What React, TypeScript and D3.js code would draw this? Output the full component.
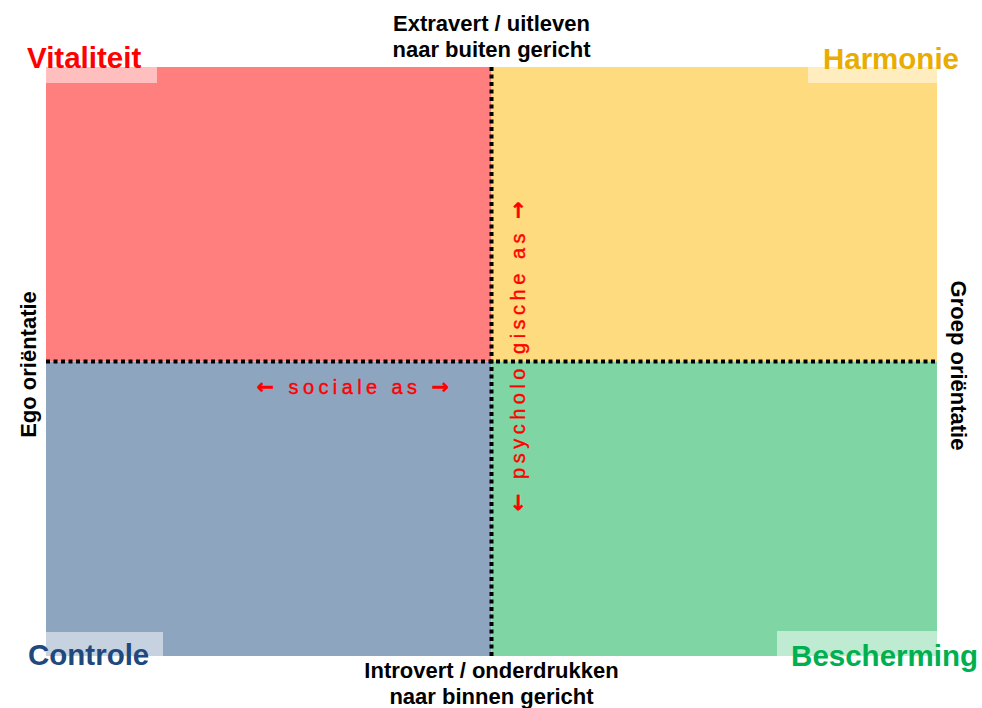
import React from 'react';
import * as d3 from 'd3';

// quadrant data: [x0, x1] and [y0, y1] in axis units (-1..1)
const quadNames = ['Vitaliteit', 'Harmonie', 'Controle', 'Bescherming'];
const quadX = [[-1, 0], [0, 1], [-1, 0], [0, 1]];
const quadY = [[0, 1], [0, 1], [-1, 0], [-1, 0]];
const quadFill = ['#ff7f7f', '#ffdb7f', '#8ea5c0', '#7fd6a4'];
const quadText = ['#ff0000', '#e8ad00', '#1f497d', '#00b050'];

const topLabel = ['Extravert / uitleven', 'naar buiten gericht'];
const bottomLabel = ['Introvert / onderdrukken', 'naar binnen gericht'];
const leftLabel = 'Ego oriëntatie';
const rightLabel = 'Groep oriëntatie';
const socialAxis = 'sociale as';
const psychAxis = 'psycholo gische as';

const W = 982;
const H = 708;

const App = () => {
  const x = d3.scaleLinear().domain([-1, 1]).range([46, 937]);
  const y = d3.scaleLinear().domain([-1, 1]).range([656, 67]);

  const font = 'Arial, "Liberation Sans", sans-serif';
  const arrowFont = '"DejaVu Sans", sans-serif';

  // label boxes (white wash) at outer corner of each quadrant
  const boxes = [
    { x: x(-1), y: y(1), w: 111, h: 16 },
    { x: x(1) - 129, y: y(1), w: 129, h: 16 },
    { x: x(-1), y: y(-1) - 24, w: 117, h: 24 },
    { x: x(1) - 160, y: y(-1) - 25, w: 160, h: 25 },
  ];
  const namePos = [
    { x: 27, y: 68, anchor: 'start' },
    { x: 959, y: 69, anchor: 'end' },
    { x: 28, y: 665, anchor: 'start' },
    { x: 978, y: 666, anchor: 'end' },
  ];

  return (
    <svg width={W} height={H} style={{ position: 'absolute', left: 0, top: 0 }}>
      <rect width={W} height={H} fill="#fff" />
      {quadNames.map((n, i) => (
        <rect
          key={n}
          x={x(quadX[i][0])}
          y={y(quadY[i][1])}
          width={x(quadX[i][1]) - x(quadX[i][0])}
          height={y(quadY[i][0]) - y(quadY[i][1])}
          fill={quadFill[i]}
        />
      ))}
      {boxes.map((b, i) => (
        <rect key={i} x={b.x} y={b.y} width={b.w} height={b.h} fill="#fff" fillOpacity={0.5} />
      ))}
      {quadNames.map((n, i) => (
        <text
          key={n}
          x={namePos[i].x}
          y={namePos[i].y}
          textAnchor={namePos[i].anchor}
          fontFamily={font}
          fontWeight="bold"
          fontSize={29.5}
          fill={quadText[i]}
        >
          {n}
        </text>
      ))}

      {/* dotted axes */}
      <line x1={x(-1)} x2={x(1)} y1={y(0)} y2={y(0)} stroke="#000" strokeWidth={4} strokeDasharray="4 3.5" />
      <line x1={x(0)} x2={x(0)} y1={y(1)} y2={y(-1)} stroke="#000" strokeWidth={4} strokeDasharray="4 3.5" />

      {/* axis end labels */}
      <g fontFamily={font} fontWeight="bold" fontSize={22} fill="#000" textAnchor="middle">
        {topLabel.map((t, i) => (
          <text key={t} x={x(0)} y={31 + i * 26}>{t}</text>
        ))}
        {bottomLabel.map((t, i) => (
          <text key={t} x={x(0)} y={678 + i * 26}>{t}</text>
        ))}
        <text transform={`translate(36, ${y(0) + 3}) rotate(-90)`}>{leftLabel}</text>
        <text transform={`translate(951, ${y(0) + 4}) rotate(90)`}>{rightLabel}</text>
      </g>

      {/* axis names */}
      <g fontFamily={font} fontSize={20} fill="#ff0000" stroke="#ff0000" strokeWidth={0.4} textAnchor="middle">
        <text x={355} y={394} letterSpacing={4.4}>
          <tspan fontFamily={arrowFont} fontWeight="bold" fontSize={21}>←</tspan> {socialAxis}{' '}
          <tspan fontFamily={arrowFont} fontWeight="bold" fontSize={21}>→</tspan>
        </text>
        <text transform={`translate(525, 354) rotate(-90)`} letterSpacing={4.5}>
          <tspan fontFamily={arrowFont} fontWeight="bold" fontSize={21}>←</tspan> {psychAxis}{' '}
          <tspan fontFamily={arrowFont} fontWeight="bold" fontSize={21}>→</tspan>
        </text>
      </g>
    </svg>
  );
};

export default App;
